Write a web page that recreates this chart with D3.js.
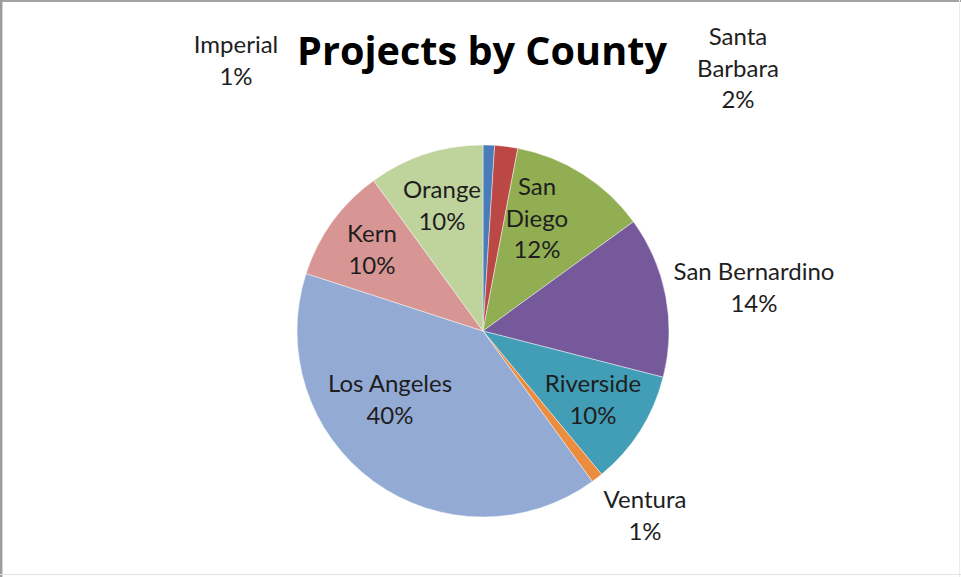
<!DOCTYPE html>
<html>
<head>
<meta charset="utf-8">
<script src="https://cdn.jsdelivr.net/npm/d3@7/dist/d3.min.js"></script>
<style>
  html, body { margin: 0; padding: 0; background: #fff; }
  svg { display: block; }
</style>
</head>
<body>
<svg id="chart" width="961" height="577"></svg>
<script>
// County shares of projects (percent), clockwise from 12 o'clock
const counties = ["Imperial", "Santa Barbara", "San Diego", "San Bernardino", "Riverside",
                  "Ventura", "Los Angeles", "Kern", "Orange"];
const shares = [1, 2, 12, 14, 10, 1, 40, 10, 10];
const sliceColors = ["#4a7cba", "#bb4845", "#91ae53", "#76599a", "#429db6",
                     "#ec8c3e", "#93abd4", "#d79694", "#bfd39c"];

// Label lines (name may wrap) and anchor points for each label block
const labelLines = {
  "Imperial": ["Imperial"],
  "Santa Barbara": ["Santa", "Barbara"],
  "San Diego": ["San", "Diego"],
  "San Bernardino": ["San Bernardino"],
  "Riverside": ["Riverside"],
  "Ventura": ["Ventura"],
  "Los Angeles": ["Los Angeles"],
  "Kern": ["Kern"],
  "Orange": ["Orange"]
};
// x = centre of text, y = baseline of first line
const labelAnchor = {
  "Imperial": [236, 53],
  "Santa Barbara": [738, 45],
  "San Diego": [537, 195],
  "San Bernardino": [754, 280],
  "Riverside": [593, 392],
  "Ventura": [645, 508],
  "Los Angeles": [390, 392],
  "Kern": [372, 242],
  "Orange": [442, 198]
};

const svg = d3.select("#chart");
const W = 961, H = 577;
const cx = 483, cy = 331, R = 186;
const labelFont = "Lato, 'Open Sans', 'DejaVu Sans', sans-serif";
const titleFont = "'Open Sans', Lato, 'DejaVu Sans', sans-serif";

// frame edges
svg.append("rect").attr("x", 0).attr("y", 0).attr("width", W).attr("height", 2).attr("fill", "#a3a3a3");
svg.append("rect").attr("x", 0).attr("y", 0).attr("width", 2).attr("height", H).attr("fill", "#9c9c9c");
svg.append("rect").attr("x", 2).attr("y", 2).attr("width", 1).attr("height", H).attr("fill", "#d4d4d4");
svg.append("rect").attr("x", W - 2).attr("y", 0).attr("width", 1).attr("height", H).attr("fill", "#ececec");
svg.append("rect").attr("x", 0).attr("y", H - 3).attr("width", W).attr("height", 1).attr("fill", "#e2e2e2");

// fit a font size so that a sample string reaches a given width
function fitSize(sample, targetWidth, weight, family) {
  const t = svg.append("text")
    .attr("font-family", family)
    .attr("font-weight", weight)
    .attr("font-size", 100)
    .text(sample);
  const w = t.node().getComputedTextLength();
  t.remove();
  return 100 * targetWidth / w;
}

const titleSize = fitSize("Projects by County", 370, 700, titleFont);
const labelSize = fitSize("San Bernardino", 161, 400, labelFont);

// pie
const data = counties.map((c, i) => ({ county: c, share: shares[i], color: sliceColors[i] }));
const pie = d3.pie().value(d => d.share).sort(null).startAngle(0).endAngle(2 * Math.PI);
const arc = d3.arc().innerRadius(0).outerRadius(R);

const g = svg.append("g").attr("transform", `translate(${cx},${cy})`);
g.selectAll("path.slice")
  .data(pie(data))
  .join("path")
  .attr("class", "slice")
  .attr("d", arc)
  .attr("fill", d => d.data.color)
  .attr("stroke", "rgba(255,255,255,0.55)")
  .attr("stroke-width", 0.8);

// title
svg.append("text")
  .attr("x", 482)
  .attr("y", 65)
  .attr("text-anchor", "middle")
  .attr("font-family", titleFont)
  .attr("font-weight", 700)
  .attr("font-size", titleSize)
  .attr("fill", "#000")
  .text("Projects by County");

// data labels: name lines followed by the percentage
const lineGap = 31.5;
data.forEach(d => {
  const [x, y] = labelAnchor[d.county];
  const lines = labelLines[d.county].concat([d.share + "%"]);
  const t = svg.append("text")
    .attr("text-anchor", "middle")
    .attr("font-family", labelFont)
    .attr("font-size", labelSize)
    .attr("fill", "#1e1e1e");
  lines.forEach((s, i) => {
    t.append("tspan").attr("x", x).attr("y", y + i * lineGap).text(s);
  });
});
</script>
</body>
</html>
